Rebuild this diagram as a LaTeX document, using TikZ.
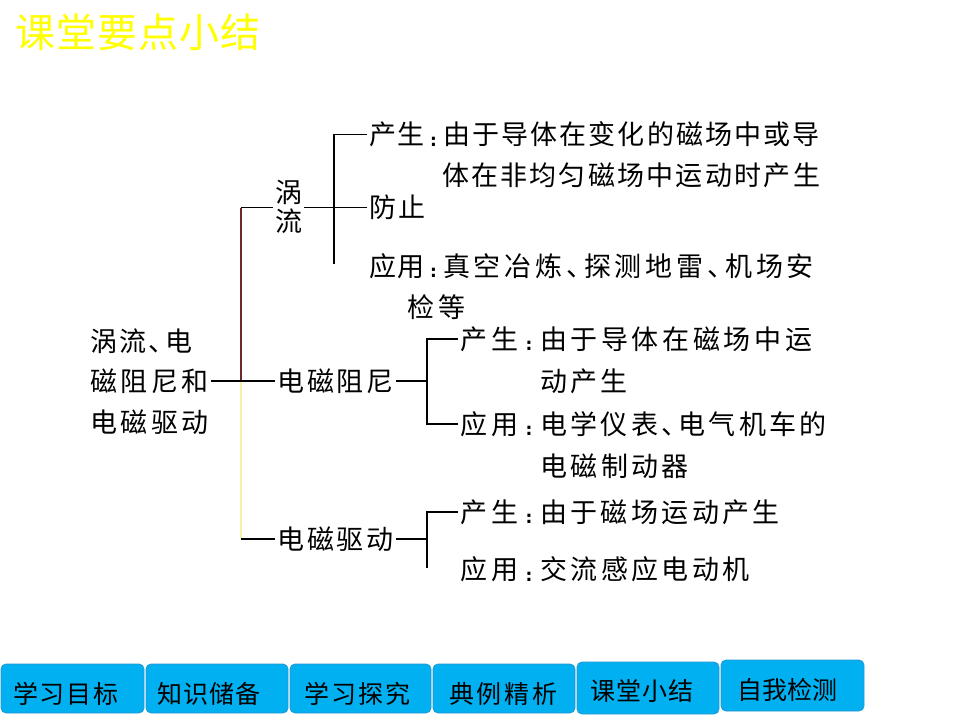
\documentclass[tikz,border=0pt]{standalone}
\usepackage{fontspec}
\setmainfont{Noto Sans CJK SC}
\newfontfamily\colonfont{DejaVu Sans}
\makeatletter
\newcommand\spreadto[2]{\makebox[#1][s]{\@tfor\spr@ch:=#2\do{\spr@ch\hfil}\unskip}}
\makeatother
\newcommand\dun{\makebox[0.5em][l]{、}}
\newcommand\cln[1]{\makebox[#1]{\raisebox{-1.5pt}{\colonfont\bfseries\fontsize{17pt}{17pt}\selectfont :}}}
\definecolor{btnblue}{RGB}{0,176,240}
\definecolor{btnedge}{RGB}{40,150,210}
\definecolor{brownline}{RGB}{110,40,40}
\definecolor{paleyellow}{RGB}{245,240,170}
\definecolor{titleyellow}{RGB}{255,255,0}
\begin{document}
\begin{tikzpicture}[x=1pt,y=-1pt,
  txt/.style={inner sep=0pt, outer sep=2pt, anchor=west, font=\fontsize{27pt}{30pt}\selectfont, text height=23.8pt, text depth=3.2pt},
  conn/.style={line width=1.3pt, black},
  brownln/.style={line width=1.5pt, brownline},
  yellowln/.style={line width=1.5pt, paleyellow},
  btn/.style={draw=btnedge, fill=btnblue, rounded corners=5pt, line width=0.8pt, inner sep=0pt},
  btntxt/.style={inner sep=0pt, anchor=west, font=\fontsize{25pt}{28pt}\selectfont, text height=22pt, text depth=3pt}]
\useasboundingbox (0,0) rectangle (960,720);
\fill[white] (0,0) rectangle (960,720);

% title
\node[txt, font=\fontsize{40pt}{44pt}\selectfont, text=titleyellow, text height=35.2pt, text depth=4.8pt] (title) at (13,32) {\spreadto{245pt}{课堂要点小结}};

% root
\node[txt] (r1) at (88,341) {\spreadto{102pt}{涡流\dun 电}};
\node[txt] (r2) at (88,381) {\spreadto{119pt}{磁阻尼和}};
\node[txt] (r3) at (88,422) {\spreadto{119pt}{电磁驱动}};

% second level
\node[txt] (wo) at (273,192) {涡};
\node[txt] (liu) at (273,221) {流};
\node[txt] (zn) at (275,381) {\spreadto{117pt}{电磁阻尼}};
\node[txt] (zd) at (275,539) {\spreadto{117pt}{电磁驱动}};

% eddy current leaves
\node[txt] (a1) at (367,134.5) {\spreadto{55pt}{产生}\cln{19pt}\spreadto{377pt}{由于导体在变化的磁场中或导}};
\node[txt] (a2) at (440,175) {\spreadto{378pt}{体在非均匀磁场中运动时产生}};
\node[txt] (a3) at (367,207.5) {\spreadto{56pt}{防止}};
\node[txt] (a4) at (367,266) {\spreadto{55pt}{应用}\cln{19pt}\spreadto{371pt}{真空冶炼\dun 探测地雷\dun 机场安}};
\node[txt] (a5) at (405,307) {\spreadto{58pt}{检等}};

% damping leaves
\node[txt] (b1) at (458,339) {\spreadto{58pt}{产生}\cln{22pt}\spreadto{272pt}{由于导体在磁场中运}};
\node[txt] (b2) at (538,381) {\spreadto{87pt}{动产生}};
\node[txt] (b3) at (458,424) {\spreadto{58pt}{应用}\cln{22pt}\spreadto{287pt}{电学仪表\dun 电气机车的}};
\node[txt] (b4) at (538,466) {\spreadto{149pt}{电磁制动器}};

% drive leaves
\node[txt] (c1) at (458,512) {\spreadto{58pt}{产生}\cln{22pt}\spreadto{240pt}{由于磁场运动产生}};
\node[txt] (c2) at (458,569.5) {\spreadto{58pt}{应用}\cln{22pt}\spreadto{210pt}{交流感应电动机}};

% main bracket
\coordinate (J) at (241,207.5);
\coordinate (Jm) at (241,381);
\coordinate (Jb) at (241,539);
\draw[brownln] (J) -- (Jm);
\draw[yellowln] (Jm) -- (Jb);
\draw[conn] (J) -- (J -| wo.west);
\draw[conn] (Jb) -- (zd.west);
\draw[conn] (r2.east) -- (zn.west);

% eddy current bracket
\coordinate (T1b) at (334,264);
\draw[conn] (a1.west) -| (T1b);
\draw[conn] (liu.east |- a3.west) -- (a3.west);

% damping bracket
\coordinate (T2) at (427,381);
\draw[conn] (zn.east) -- (T2);
\draw[conn] (b1.west) -| (T2) |- (b3.west);

% drive bracket
\coordinate (T3) at (427,539);
\coordinate (T3b) at (427,568);
\draw[conn] (zd.east) -- (T3);
\draw[conn] (c1.west) -| (T3b);

% navigation buttons
\node[btn, minimum width=143pt, minimum height=49pt] (k1) at (72.5,688.5) {};
\node[btn, minimum width=142pt, minimum height=49pt] (k2) at (217,688.5) {};
\node[btn, minimum width=141pt, minimum height=49pt] (k3) at (360.5,688.5) {};
\node[btn, minimum width=142pt, minimum height=49pt] (k4) at (504,688.5) {};
\node[btn, minimum width=142pt, minimum height=52pt] (k5) at (648,688) {};
\node[btn, minimum width=143pt, minimum height=51pt] (k6) at (792.5,685.5) {};
\node[btntxt] (kt1) at (13,694) {\spreadto{105pt}{学习目标}};
\node[btntxt] (kt2) at (157,694) {\spreadto{103pt}{知识储备}};
\node[btntxt] (kt3) at (304,694) {\spreadto{106pt}{学习探究}};
\node[btntxt] (kt4) at (449,694) {\spreadto{108pt}{典例精析}};
\node[btntxt] (kt5) at (590,691) {\spreadto{103pt}{课堂小结}};
\node[btntxt] (kt6) at (737,690) {\spreadto{100pt}{自我检测}};
\end{tikzpicture}
\end{document}
